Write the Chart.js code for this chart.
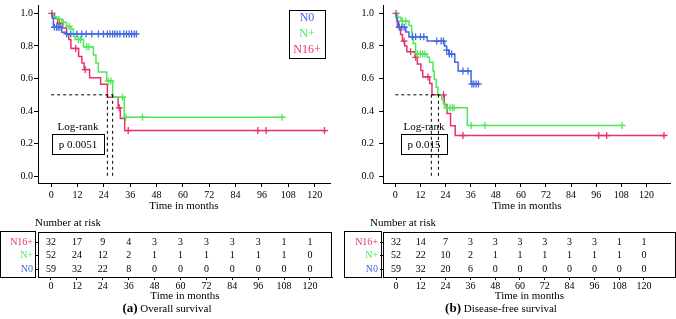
<!DOCTYPE html>
<html>
<head>
<meta charset="utf-8">
<script src="https://cdn.jsdelivr.net/npm/chart.js@4"></script>
<style>
  body { margin: 0; background: #fff; width: 676px; height: 319px; position: relative; overflow: hidden; font-family: "Liberation Serif", serif; }
  canvas { position: absolute; }
  .cap { position: absolute; top: 300px; font-size: 11px; text-align: center; width: 240px; }
  .cap b { font-size: 13px; }
</style>
</head>
<body>
<canvas id="kmA" width="336" height="213" style="left:0;top:0"></canvas>
<canvas id="kmB" width="340" height="213" style="left:336px;top:0"></canvas>
<canvas id="riskA" width="336" height="88" style="left:0;top:215px"></canvas>
<canvas id="riskB" width="340" height="88" style="left:336px;top:215px"></canvas>
<div class="cap" style="left:47px"><b>(a)</b> Overall survival</div>
<div class="cap" style="left:381px"><b>(b)</b> Disease-free survival</div>
<script>
// groepen
const groups = ['N0', 'N+', 'N16+'];
const colors = { 'N0': '#4169e1', 'N+': '#4ee85a', 'N16+': '#e8336a' };

const monthTicks = [0, 12, 24, 36, 48, 60, 72, 84, 96, 108, 120];
const survTicks = [0, 0.2, 0.4, 0.6, 0.8, 1.0];

// (a) Overall survival - stappen (tijd, overleving)
const osN0Times = [0, 0.5, 1, 4.8, 6.5, 39.5];
const osN0Surv = [1, 0.97, 0.915, 0.885, 0.874, 0.874];
const osN0Cens = [1.5, 2.5, 3.2, 4, 7.1, 8.9, 11.7, 13.9, 15.9, 18.5, 21.5, 23.8, 25.6, 26.8, 28, 29, 30.1, 31.3, 33.1, 34.3, 35.5, 36.6, 37.8, 38.8];

const osNpTimes = [0, 1, 2.5, 5, 7, 9, 10.1, 10.9, 14.7, 19.2, 20.4, 21.5, 25.3, 28, 33.3, 105.5];
const osNpSurv = [1, 0.98, 0.965, 0.945, 0.92, 0.905, 0.86, 0.84, 0.795, 0.745, 0.695, 0.64, 0.585, 0.485, 0.362, 0.362];
const osNpCens = [3.5, 5.6, 8.2, 12.4, 13.4, 16.2, 17.2, 26, 27.2, 32.5, 34, 41.6, 105.2];

const osN16Times = [0, 1.5, 3, 5, 7, 8, 9, 12.5, 14, 15, 17.5, 22.5, 25.6, 30.5, 31.5, 33.5, 125.2];
const osN16Surv = [1, 0.97, 0.94, 0.91, 0.87, 0.84, 0.785, 0.735, 0.695, 0.655, 0.605, 0.565, 0.485, 0.42, 0.355, 0.28, 0.28];
const osN16Cens = [0.3, 3.8, 11.2, 15.5, 31, 35.1, 94.1, 97.9, 124.5];

const osMedians = [25.6, 28];
const osMedianEnd = 28.3;

// (b) Disease-free survival
const dfsN0Times = [0, 0.5, 1, 5, 6.5, 15.2, 23.5, 24.5, 25.5, 28.4, 30, 36.2, 40.2];
const dfsN0Surv = [1, 0.97, 0.915, 0.886, 0.856, 0.83, 0.80, 0.775, 0.75, 0.70, 0.646, 0.566, 0.566];
const dfsN0Cens = [1.9, 3.1, 4.2, 8.1, 9.7, 12, 13.6, 19.8, 21.9, 23, 24.5, 25.8, 26.9, 32.3, 34.7, 36.6, 37.5, 38.6, 39.7];

const dfsNpTimes = [0, 1.1, 2.7, 6.6, 7.8, 8.2, 8.6, 9.7, 15.2, 16.3, 18, 18.6, 19.5, 20.3, 22.2, 23, 23.8, 34.4, 108.4];
const dfsNpSurv = [1, 0.976, 0.952, 0.926, 0.885, 0.856, 0.816, 0.75, 0.73, 0.70, 0.646, 0.596, 0.546, 0.50, 0.47, 0.446, 0.42, 0.312, 0.312];
const dfsNpCens = [3.4, 5, 10.5, 12, 13.1, 14.1, 24.5, 26.1, 27.2, 28.1, 36.2, 42.8, 108.4];

const dfsN16Times = [0, 0.8, 1.6, 2.5, 3.4, 4.5, 5.5, 9.4, 10.5, 12.2, 13.1, 16.4, 17.5, 23.4, 24.7, 26.4, 28.6, 128.4];
const dfsN16Surv = [1, 0.95, 0.91, 0.87, 0.83, 0.80, 0.765, 0.73, 0.69, 0.65, 0.61, 0.57, 0.50, 0.44, 0.385, 0.31, 0.25, 0.25];
const dfsN16Cens = [0.3, 4.2, 7.3, 9.7, 15.6, 23, 32.3, 97.2, 101, 128.4];

const dfsMedians = [17.2, 20.6];
const dfsMedianEnd = 22.2;

// number at risk
const riskTimes = monthTicks;
const riskRows = ['N16+', 'N+', 'N0'];
const osRiskN16 = [32, 17, 9, 4, 3, 3, 3, 3, 3, 1, 1];
const osRiskNp = [52, 24, 12, 2, 1, 1, 1, 1, 1, 1, 0];
const osRiskN0 = [59, 32, 22, 8, 0, 0, 0, 0, 0, 0, 0];
const dfsRiskN16 = [32, 14, 7, 3, 3, 3, 3, 3, 3, 1, 1];
const dfsRiskNp = [52, 22, 10, 2, 1, 1, 1, 1, 1, 1, 0];
const dfsRiskN0 = [59, 32, 20, 6, 0, 0, 0, 0, 0, 0, 0];

const serif = 'Liberation Serif';

function stepValue(times, surv, t) {
  let v = surv[0];
  for (let i = 0; i < times.length; i++) if (times[i] <= t) v = surv[i];
  return v;
}

function kmDatasets(curves, medians, medianEnd) {
  const ds = [];
  // mediaan lijnen
  ds.push({ data: [{ x: 0, y: 0.5 }, { x: medianEnd, y: 0.5 }], showLine: true, borderColor: '#000', borderWidth: 1, borderDash: [3, 3], pointRadius: 0 });
  medians.forEach(m => {
    ds.push({ data: [{ x: m, y: 0.5 }, { x: m, y: 0 }], showLine: true, borderColor: '#000', borderWidth: 1, borderDash: [3, 3], pointRadius: 0 });
  });
  curves.forEach(c => {
    ds.push({
      data: c.times.map((t, i) => ({ x: t, y: c.surv[i] })),
      showLine: true, stepped: 'before', borderColor: colors[c.group], borderWidth: 1.5, pointRadius: 0
    });
    ds.push({
      data: c.cens.map(t => ({ x: t, y: stepValue(c.times, c.surv, t) })),
      showLine: false, pointStyle: 'cross', pointRadius: 3.5, borderColor: colors[c.group], borderWidth: 1.3
    });
  });
  return ds;
}

function axisFont(size) { return { family: serif, size: size }; }

// geen automatische randen rond de as
function noPad(s) { s.paddingTop = 0; s.paddingBottom = 0; s.paddingLeft = 0; s.paddingRight = 0; }

function kmOptions(xmin, xmax, yWidth, padRight, yPad) {
  return {
    responsive: false,
    animation: false,
    layout: { padding: { top: 1, right: padRight, left: 0, bottom: 0 } },
    plugins: { legend: { display: false }, tooltip: { enabled: false } },
    scales: {
      x: {
        type: 'linear', min: xmin, max: xmax,
        afterBuildTicks: s => { s.ticks = monthTicks.map(v => ({ value: v })); },
        afterFit: s => { s.height = 30; noPad(s); },
        grid: { drawOnChartArea: false, tickLength: 4, color: '#000' },
        border: { color: '#000', width: 1 },
        ticks: { font: axisFont(10), color: '#000', padding: 2, maxRotation: 0, autoSkip: false },
        title: { display: true, text: 'Time in months', font: axisFont(11), color: '#000', padding: 0 }
      },
      y: {
        type: 'linear', min: -0.042, max: 1.05,
        afterBuildTicks: s => { s.ticks = survTicks.map(v => ({ value: v })); },
        afterFit: s => { s.width = yWidth; noPad(s); },
        grid: { drawOnChartArea: false, tickLength: 4, color: '#000' },
        border: { color: '#000', width: 1 },
        ticks: { font: axisFont(10), color: '#000', padding: yPad, autoSkip: false, callback: v => v.toFixed(1) }
      }
    }
  };
}

function annotPlugin(pText, cx, boxW, showLegend) {
  return {
    id: 'annot',
    afterDraw(chart) {
      const ctx = chart.ctx;
      ctx.save();
      ctx.fillStyle = '#000';
      ctx.strokeStyle = '#000';
      ctx.lineWidth = 1;
      ctx.font = '11px "Liberation Serif"';
      ctx.textAlign = 'center';
      ctx.textBaseline = 'middle';
      ctx.fillText('Log-rank', cx, 127);
      ctx.strokeRect(Math.round(cx - boxW / 2) + 0.5, 134.5, boxW, 20);
      ctx.fillText(pText, cx, 145);
      if (showLegend) {
        ctx.strokeRect(289.5, 10.5, 36, 48);
        ctx.font = '12px "Liberation Serif"';
        ctx.fillStyle = colors['N0']; ctx.fillText('N0', 307, 18);
        ctx.fillStyle = colors['N+']; ctx.fillText('N+', 307, 34);
        ctx.fillStyle = colors['N16+']; ctx.fillText('N16+', 307, 50);
      }
      ctx.restore();
    }
  };
}

new Chart(document.getElementById('kmA'), {
  type: 'scatter',
  data: { datasets: kmDatasets([
    { group: 'N0', times: osN0Times, surv: osN0Surv, cens: osN0Cens },
    { group: 'N+', times: osNpTimes, surv: osNpSurv, cens: osNpCens },
    { group: 'N16+', times: osN16Times, surv: osN16Surv, cens: osN16Cens }
  ], osMedians, osMedianEnd) },
  options: kmOptions(-6, 127, 38, 6, 1),
  plugins: [annotPlugin('p 0.0051', 78, 52, true)]
});

new Chart(document.getElementById('kmB'), {
  type: 'scatter',
  data: { datasets: kmDatasets([
    { group: 'N0', times: dfsN0Times, surv: dfsN0Surv, cens: dfsN0Cens },
    { group: 'N+', times: dfsNpTimes, surv: dfsNpSurv, cens: dfsNpCens },
    { group: 'N16+', times: dfsN16Times, surv: dfsN16Surv, cens: dfsN16Cens }
  ], dfsMedians, dfsMedianEnd) },
  options: kmOptions(-5.9, 131.6, 47, 0, 5),
  plugins: [annotPlugin('p 0.015', 88, 46, false)]
});

function riskChart(id, xmin, xmax, yWidth, padRight, rows, labelBox) {
  const rowY = [3, 2, 1];
  new Chart(document.getElementById(id), {
    type: 'scatter',
    data: { datasets: [] },
    options: {
      responsive: false,
      animation: false,
      layout: { padding: { top: 17, right: padRight, left: 0, bottom: 0 } },
      plugins: { legend: { display: false }, tooltip: { enabled: false } },
      scales: {
        x: {
          type: 'linear', min: xmin, max: xmax,
          afterBuildTicks: s => { s.ticks = riskTimes.map(v => ({ value: v })); },
          afterFit: s => { s.height = 26; noPad(s); },
          grid: { drawOnChartArea: false, tickLength: 3, color: '#000' },
          border: { color: '#000', width: 1 },
          ticks: { font: axisFont(10), color: '#000', padding: 0, maxRotation: 0, autoSkip: false },
          title: { display: true, text: 'Time in months', font: axisFont(11), color: '#000', padding: 0 }
        },
        y: {
          type: 'linear', min: 0.41, max: 3.74,
          afterBuildTicks: s => { s.ticks = rowY.map(v => ({ value: v })); },
          afterFit: s => { s.width = yWidth; noPad(s); },
          grid: { drawOnChartArea: false, tickLength: 3, color: '#000' },
          border: { color: '#000', width: 1 },
          ticks: {
            font: axisFont(10), padding: 2, autoSkip: false,
            callback: v => riskRows[rowY.indexOf(v)],
            color: c => colors[riskRows[rowY.indexOf(c.tick.value)]]
          }
        }
      }
    },
    plugins: [{
      id: 'riskTable',
      afterDraw(chart) {
        const ctx = chart.ctx;
        const a = chart.chartArea;
        const xs = chart.scales.x, ys = chart.scales.y;
        ctx.save();
        ctx.strokeStyle = '#000';
        ctx.lineWidth = 1;
        ctx.strokeRect(Math.round(a.left) + 0.5, Math.round(a.top) + 0.5, Math.round(a.right - a.left) - 1, Math.round(a.bottom - a.top));
        ctx.strokeRect(labelBox[0] + 0.5, 16.5, labelBox[1], 46);
        ctx.fillStyle = '#000';
        ctx.font = '11px "Liberation Serif"';
        ctx.textAlign = 'left';
        ctx.textBaseline = 'middle';
        ctx.fillText('Number at risk', labelBox[2], 8);
        ctx.font = '10px "Liberation Serif"';
        ctx.textAlign = 'center';
        rows.forEach((vals, r) => {
          vals.forEach((v, i) => {
            ctx.fillText(String(v), xs.getPixelForValue(riskTimes[i]), ys.getPixelForValue(rowY[r]));
          });
        });
        ctx.restore();
      }
    }]
  });
}

riskChart('riskA', -6.02, 130.2, 38, 4, [osRiskN16, osRiskNp, osRiskN0], [0, 35, 35]);
riskChart('riskB', -6.3, 135.5, 47, 0, [dfsRiskN16, dfsRiskNp, dfsRiskN0], [8, 37, 34]);
</script>
</body>
</html>
